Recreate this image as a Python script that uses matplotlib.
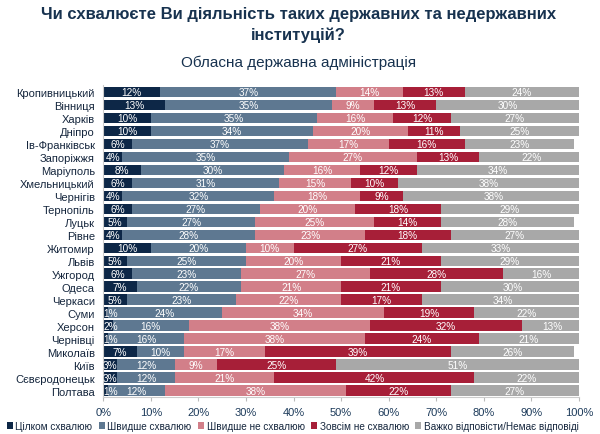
import numpy as np
import matplotlib
matplotlib.use("Agg")
import matplotlib.pyplot as plt

cities = [
    "Кропивницький", "Вінниця", "Харків", "Дніпро", "Ів-Франківськ",
    "Запоріжжя", "Маріуполь", "Хмельницький", "Чернігів", "Тернопіль",
    "Луцьк", "Рівне", "Житомир", "Львів", "Ужгород", "Одеса", "Черкаси",
    "Суми", "Херсон", "Чернівці", "Миколаїв", "Київ", "Сєвєродонецьк",
    "Полтава",
]

fully_approve = [12, 13, 10, 10, 6, 4, 8, 6, 4, 6, 5, 4, 10, 5, 6, 7, 5,
                 1, 2, 1, 7, 3, 3, 1]
rather_approve = [37, 35, 35, 34, 37, 35, 30, 31, 32, 27, 27, 28, 20, 25,
                  23, 22, 23, 24, 16, 16, 10, 12, 12, 12]
rather_not = [14, 9, 16, 20, 17, 27, 16, 15, 18, 20, 25, 23, 10, 20, 27,
              21, 22, 34, 38, 38, 17, 9, 21, 38]
not_at_all = [13, 13, 12, 11, 16, 13, 12, 10, 9, 18, 14, 18, 27, 21, 28,
              21, 17, 19, 32, 24, 39, 25, 42, 22]
hard_to_say = [24, 30, 27, 25, 23, 22, 34, 38, 38, 29, 28, 27, 33, 29, 16,
               30, 34, 22, 13, 21, 26, 51, 22, 27]

series_names = ["Цілком схвалюю", "Швидше схвалюю", "Швидше не схвалюю",
                "Зовсім не схвалюю", "Важко відповісти/Немає відповіді"]
colors = ["#0d2747", "#5e7891", "#d27f89", "#a71f38", "#a8a8a8"]
series = [fully_approve, rather_approve, rather_not, not_at_all, hard_to_say]

plt.rcParams['font.family'] = ['Liberation Sans', 'DejaVu Sans']

fig = plt.figure(figsize=(6, 4.35), dpi=100)
ax = fig.add_axes([0.172, 0.085, 0.793, 0.717])

y = np.arange(len(cities))
left = np.zeros(len(cities))
for vals, name, col in zip(series, series_names, colors):
    vals = np.array(vals, dtype=float)
    ax.barh(y, vals, left=left, height=0.78, color=col, label=name,
            edgecolor='none')
    for yi, (l, v) in enumerate(zip(left, vals)):
        if v < 2.5:
            # tiny segment: label starts at the segment and spills over
            ax.text(l + 0.1, yi, f"{int(v)}%", ha='left', va='center',
                    color='white', fontsize=7.2)
        else:
            ax.text(l + v / 2, yi, f"{int(v)}%", ha='center', va='center',
                    color='white', fontsize=7.2)
    left += vals

ax.set_ylim(len(cities) - 0.5, -0.5)
ax.set_xlim(0, 100)
ax.set_yticks(y)
ax.set_yticklabels(cities, fontsize=8, color='#15263d')
ax.set_xticks(np.arange(0, 101, 10))
ax.set_xticklabels([f"{t}%" for t in range(0, 101, 10)], fontsize=8,
                   color='#1c3a5a')
ax.tick_params(axis='y', length=0, pad=6)
ax.tick_params(axis='x', length=3, color='#bbbbbb', pad=4)
for s in ['top', 'right']:
    ax.spines[s].set_visible(False)
ax.spines['left'].set_color('#cccccc')
ax.spines['bottom'].set_color('#cccccc')

fig.text(0.497, 0.983, "Чи схвалюєте Ви діяльність таких державних та недержавних\nінституцій?",
         ha='center', va='top', fontsize=12, fontweight='bold',
         color='#17324f', linespacing=1.4)
fig.text(0.497, 0.855, "Обласна державна адміністрація", ha='center',
         va='center', fontsize=11, color='#17324f')

handles, labels = ax.get_legend_handles_labels()
fig.legend(handles, labels, loc='center', bbox_to_anchor=(0.488, 0.018),
           ncol=5, frameon=False, fontsize=7.2, handlelength=0.6,
           handleheight=0.6, handletextpad=0.25, columnspacing=0.65,
           labelcolor='#15263d', borderaxespad=0, borderpad=0)

fig.savefig("out.png", dpi=100)
